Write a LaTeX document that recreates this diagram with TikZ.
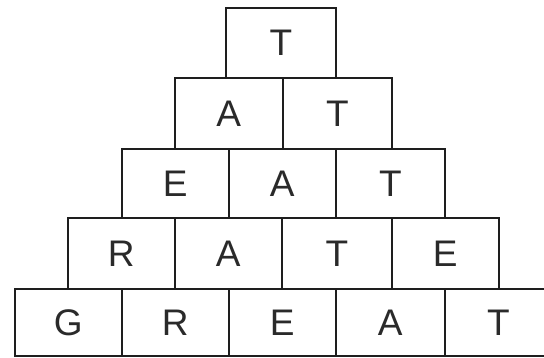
\documentclass[tikz,border=0pt]{standalone}
\usepackage{fontspec}
\setmainfont{Liberation Sans}
\definecolor{ink}{HTML}{1E1E1E}
\definecolor{txt}{HTML}{2A2A2A}
\begin{document}
\begin{tikzpicture}[x=1pt,y=-1pt,
  cell/.style={draw=ink, line width=1.6pt, inner sep=0pt, anchor=north west,
    text=txt, font=\fontsize{37}{40}\selectfont}]
\useasboundingbox (0,0) rectangle (544,357);
\clip (0,0) rectangle (544,357);
% row 5 (top)
\node[cell, minimum width=110pt, minimum height=70pt] (t5) at (225,7) {T};
% row 4
\node[cell, minimum width=108pt, minimum height=71pt] (a4) at (174,77) {A};
\node[cell, minimum width=109pt, minimum height=71pt] (t4) at (282,77) {T};
% row 3
\node[cell, minimum width=107pt, minimum height=69pt] (e3) at (121,148) {E};
\node[cell, minimum width=107pt, minimum height=69pt] (a3) at (228,148) {A};
\node[cell, minimum width=109pt, minimum height=69pt] (t3) at (335,148) {T};
% row 2
\node[cell, minimum width=107pt, minimum height=71pt] (r2) at (67,217) {R};
\node[cell, minimum width=107pt, minimum height=71pt] (a2) at (174,217) {A};
\node[cell, minimum width=110pt, minimum height=71pt] (t2) at (281,217) {T};
\node[cell, minimum width=107pt, minimum height=71pt] (e2) at (391,217) {E};
% row 1 (bottom)
\node[cell, minimum width=107pt, minimum height=67pt] (g1) at (14,288) {G};
\node[cell, minimum width=107pt, minimum height=67pt] (r1) at (121,288) {R};
\node[cell, minimum width=107pt, minimum height=67pt] (e1) at (228,288) {E};
\node[cell, minimum width=109pt, minimum height=67pt] (a1) at (335,288) {A};
\node[cell, minimum width=107pt, minimum height=67pt] (t1) at (444,288) {T};
\end{tikzpicture}
\end{document}
